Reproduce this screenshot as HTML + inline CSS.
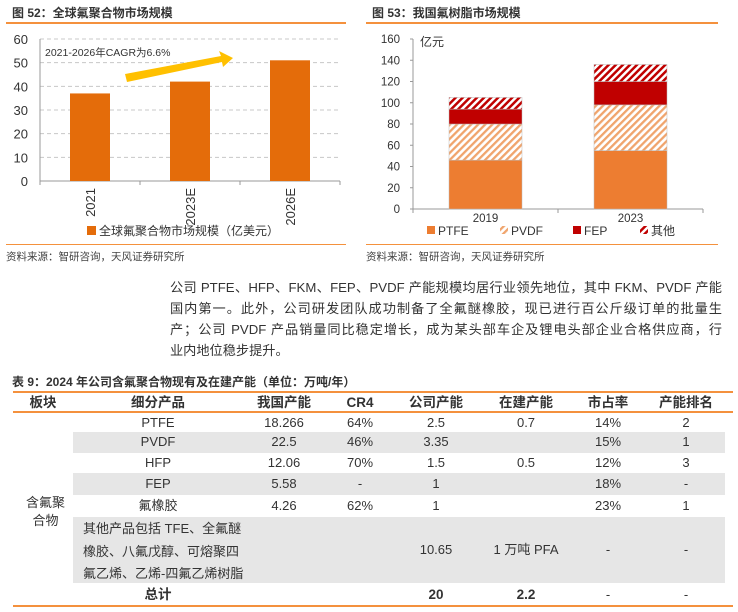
<!DOCTYPE html>
<html><head><meta charset="utf-8">
<style>
body{margin:0;width:738px;height:612px;background:#fff;position:relative;overflow:hidden;font-family:"Liberation Sans","Noto Sans CJK SC",sans-serif;color:#333}
.a{position:absolute;white-space:nowrap}
.t{font-weight:bold;font-size:12px;color:#333}
.src{font-size:10.5px;color:#444}
.p{position:absolute;left:170px;width:552px;font-size:13.2px;text-align:justify;text-align-last:justify;white-space:nowrap;color:#333;line-height:21px}
.c{position:absolute;text-align:center;font-size:13px;line-height:16px;transform:translateX(-50%);white-space:nowrap}
.h{font-weight:bold;font-size:13.5px}
.g{position:absolute;left:73px;width:652px;background:#e6e6e6}
.ol{position:absolute;left:13px;width:720px;background:#f4913d}
</style></head><body>
<div class="a t" style="left:12px;top:4px">图 52：全球氟聚合物市场规模</div>
<div class="a" style="left:6px;top:22px;width:340px;height:1.5px;background:#f4913d"></div>
<div class="a t" style="left:372px;top:4px">图 53：我国氟树脂市场规模</div>
<div class="a" style="left:366px;top:22px;width:352px;height:1.5px;background:#f4913d"></div>

<svg class="a" style="left:0;top:0" width="738" height="270" id="charts">
<defs>
<pattern id="hatchO" width="5" height="5" patternUnits="userSpaceOnUse" patternTransform="rotate(45)"><rect width="5" height="5" fill="#fff"/><rect width="2.3" height="5" fill="#f0a46c"/></pattern>
<pattern id="hatchR" width="5" height="5" patternUnits="userSpaceOnUse" patternTransform="rotate(45)"><rect width="5" height="5" fill="#fff"/><rect width="2.5" height="5" fill="#c00000"/></pattern>
</defs>
<g id="left"></g><g id="right"></g>
</svg>

<div class="a src" style="left:6px;top:249px">资料来源：智研咨询，天风证券研究所</div>
<div class="a" style="left:6px;top:244px;width:340px;height:1px;background:#f4913d"></div>
<div class="a src" style="left:366px;top:249px">资料来源：智研咨询，天风证券研究所</div>
<div class="a" style="left:366px;top:244px;width:352px;height:1px;background:#f4913d"></div>

<div class="p" style="top:277px">公司 PTFE、HFP、FKM、FEP、PVDF 产能规模均居行业领先地位，其中 FKM、PVDF 产能</div>
<div class="p" style="top:298px">国内第一。此外，公司研发团队成功制备了全氟醚橡胶，现已进行百公斤级订单的批量生</div>
<div class="p" style="top:319px">产；公司 PVDF 产品销量同比稳定增长，成为某头部车企及锂电头部企业合格供应商，行</div>
<div class="p" style="top:340px;text-align-last:left;width:auto">业内地位稳步提升。</div>

<div class="a t" style="left:12px;top:373px">表 9：2024 年公司含氟聚合物现有及在建产能（单位：万吨/年）</div>
<div class="ol" style="top:391px;height:1.5px"></div>
<div class="ol" style="top:411px;height:1.5px"></div>
<div class="ol" style="top:605px;height:1.5px"></div>
<div class="g" style="top:432px;height:21px"></div>
<div class="g" style="top:473px;height:22px"></div>
<div class="g" style="top:517px;height:66px"></div>
<div id="tbl"></div>
<div class="a" style="left:26px;top:494px;font-size:13px;line-height:18px;text-align:center">含氟聚<br>合物</div>
<div class="a" style="left:83px;top:518px;font-size:13px;line-height:22.5px">其他产品包括 TFE、全氟醚<br>橡胶、八氟戊醇、可熔聚四<br>氟乙烯、乙烯-四氟乙烯树脂</div>

<script>
// Left chart data
const leftCats=["2021","2023E","2026E"];
const leftVals=[37,42,51];
const leftTicks=[0,10,20,30,40,50,60];
// Right chart data
const rightCats=["2019","2023"];
const ptfe=[46,55];
const pvdf=[34,43];
const fep=[14,22];
const other=[11,16];
const rightTicks=[0,20,40,60,80,100,120,140,160];
const NS="http://www.w3.org/2000/svg";
function mk(p,tag,at,txt){const e=document.createElementNS(NS,tag);for(const k in at)e.setAttribute(k,at[k]);if(txt!==undefined)e.textContent=txt;p.appendChild(e);return e;}
const L=document.getElementById('left');
const ly=v=>181-v*142/60;
const lx=i=>40+100*i+50;
leftTicks.forEach(t=>{
  if(t>0){const g=mk(L,'line',{x1:40,x2:340,y1:ly(t),y2:ly(t),stroke:'#c8c8c8','stroke-dasharray':'4,3'});
  
  }
  const tx=mk(L,'text',{x:28,y:ly(t)+5,'text-anchor':'end','font-size':13,fill:'#333'},t);
  
  
});
mk(L,'line',{x1:40,x2:40,y1:39,y2:181,stroke:'#999'});
mk(L,'line',{x1:40,x2:340,y1:181,y2:181,stroke:'#999'});
for(let i=0;i<=3;i++)mk(L,'line',{x1:40+100*i,x2:40+100*i,y1:181,y2:185,stroke:'#999'});
leftVals.forEach((v,i)=>{
  const r=mk(L,'rect',{x:lx(i)-20,y:ly(v),width:40,height:181-ly(v),fill:'#e46c0a'});
  
  
  const t=mk(L,'text',{x:0,y:0,'font-size':13,fill:'#333','text-anchor':'end',transform:`translate(${lx(i)+5},188) rotate(-90)`},leftCats[i]);
  
  
});
const ar=mk(L,'polygon',{points:'125,74 221,56 219,51 233,58 223,67 222,62 127,82',fill:'#ffc000'});


const an=mk(L,'text',{x:45,y:56,'font-size':10.5,fill:'#333'},'2021-2026年CAGR为6.6%');


const lgS=mk(L,'rect',{x:87,y:226,width:9,height:9,fill:'#e46c0a'});


const lgT=mk(L,'text',{x:99,y:235,'font-size':12,fill:'#333'},'全球氟聚合物市场规模（亿美元）');



const R=document.getElementById('right');
const ry=v=>209-v*170/160;
const rx=i=>413+72.5+145*i;
rightTicks.forEach(t=>{
  const tx=mk(R,'text',{x:400,y:ry(t)+4,'text-anchor':'end','font-size':11.5,fill:'#333'},t);
  
  
  mk(R,'line',{x1:410,x2:413,y1:ry(t),y2:ry(t),stroke:'#999'});
});
mk(R,'line',{x1:413,x2:413,y1:39,y2:209,stroke:'#999'});
mk(R,'line',{x1:413,x2:703,y1:209,y2:209,stroke:'#999'});
[413,558,703].forEach(x=>mk(R,'line',{x1:x,x2:x,y1:209,y2:213,stroke:'#999'}));
const unit=mk(R,'text',{x:420,y:46,'font-size':12,fill:'#333'},'亿元');


const series=[[ptfe,'#ed7d31','ptfe'],[pvdf,'url(#hatchO)','pvdf'],[fep,'#c00000','fep'],[other,'url(#hatchR)','other']];
rightCats.forEach((c,i)=>{
  let base=0;
  series.forEach(([arr,fill,nm])=>{
    const v=arr[i];
    const r=mk(R,'rect',{x:rx(i)-36.5,y:ry(base+v),width:73,height:ry(base)-ry(base+v),fill:fill,stroke:'#bbb','stroke-width':0.5});
    
    
    base+=v;
  });
  const t=mk(R,'text',{x:rx(i),y:222,'text-anchor':'middle','font-size':11.5,fill:'#333'},c);
  
  
});
const legs=[['PTFE','#ed7d31',427],['PVDF','url(#hatchO)',500],['FEP','#c00000',573],['其他','url(#hatchR)',640]];
legs.forEach(([n,f,x])=>{
  const s=mk(R,'rect',{x:x,y:226,width:8,height:8,fill:f});
  
  
  const t=mk(R,'text',{x:x+11,y:235,'font-size':12,fill:'#333'},n);
  
  
});

// table
const colX=[43,158,284,360,436,526,608,686];
const header=["板块","细分产品","我国产能","CR4","公司产能","在建产能","市占率","产能排名"];
const rows=[
 [423,["","PTFE","18.266","64%","2.5","0.7","14%","2"]],
 [442,["","PVDF","22.5","46%","3.35","","15%","1"]],
 [463,["","HFP","12.06","70%","1.5","0.5","12%","3"]],
 [484,["","FEP","5.58","-","1","","18%","-"]],
 [506,["","氟橡胶","4.26","62%","1","","23%","1"]],
 [550,["","","","","10.65","1 万吨 PFA","-","-"]],
 [595,["","总计","","","20","2.2","-","-"]]];
const T=document.getElementById('tbl');
header.forEach((h,i)=>{const d=document.createElement('div');d.className='c h';d.style.left=colX[i]+'px';d.style.top='395px';d.textContent=h;

T.appendChild(d);});
rows.forEach(([y,cells],ri)=>cells.forEach((v,i)=>{if(!v)return;const d=document.createElement('div');d.className='c'+(ri==6&&i<6?' h':'');d.style.left=colX[i]+'px';d.style.top=(y-8)+'px';d.textContent=v;

T.appendChild(d);}));
</script>
</body></html>
